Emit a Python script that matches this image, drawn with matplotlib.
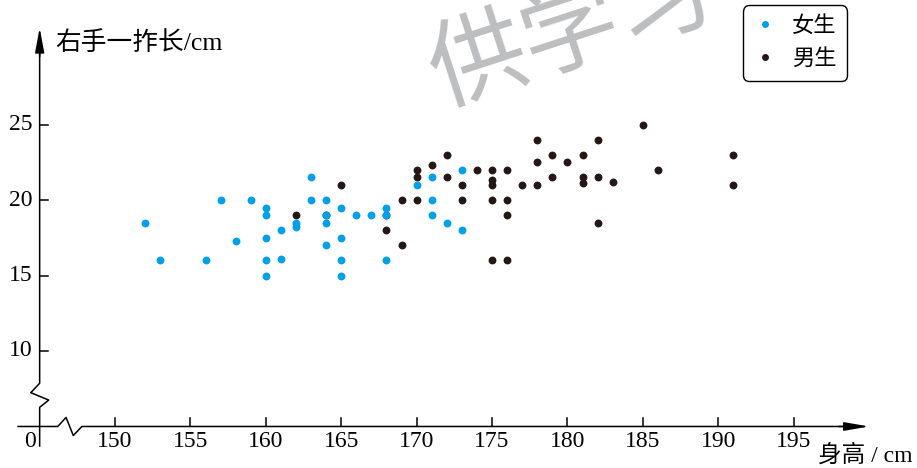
import matplotlib
matplotlib.use("Agg")
import matplotlib.pyplot as plt
from matplotlib.lines import Line2D

plt.rcParams['font.family'] = ['Liberation Serif', 'Noto Sans CJK SC', 'DejaVu Sans']

# 女生: 身高 / cm, 右手一拃长 / cm
girl_height = [152, 153, 156, 157, 158, 159, 160, 160, 160, 160, 160, 161, 161,
               162, 162, 163, 163, 164, 164, 164, 164, 165, 165, 165, 165, 166,
               167, 168, 168, 168, 170, 171, 171, 171, 172, 173, 173]
girl_span = [18.5, 16, 16, 20, 17.3, 20, 19.5, 19, 17.5, 16, 15, 18, 16.1,
             18.5, 18.2, 21.5, 20, 20, 19, 18.5, 17, 19.5, 17.5, 16, 15, 19,
             19, 19.5, 19, 16, 21, 21.5, 20, 19, 18.5, 22, 18]

# 男生
boy_height = [162, 164, 165, 168, 168, 169, 169, 170, 170, 170, 171, 172, 172,
              173, 173, 174, 175, 175, 175, 175, 175, 176, 176, 176, 176, 177,
              178, 178, 178, 179, 179, 180, 181, 181, 181, 182, 182, 182, 183,
              185, 186, 191, 191]
boy_span = [19, 19, 21, 19, 18, 20, 17, 22, 21.5, 20, 22.3, 23, 21.5,
            21, 20, 22, 22, 21.3, 21, 20, 16, 22, 20, 19, 16, 21,
            24, 22.5, 21, 23, 21.5, 22.5, 23, 21.5, 21.1, 24, 21.5, 18.5, 21.2,
            25, 22, 23, 21]

x_ticks = [150, 155, 160, 165, 170, 175, 180, 185, 190, 195]
y_ticks = [10, 15, 20, 25]

BLUE = '#00a0e9'
DARK = '#231815'

fig = plt.figure(figsize=(9.17, 4.68), dpi=100)
ax = fig.add_axes([0, 0, 1, 1])
ax.set_xlim(142.37, 203.18)
ax.set_ylim(2.25, 33.25)
ax.axis('off')

# watermark (cut off at the top edge, as in the source)
fig.text(0.455, 0.78, '供学习', rotation=18, fontsize=70, color='#bcbec0',
         family=['Noto Sans CJK SC'], ha='left', va='baseline', zorder=0)

# axes with breaks (y axis at x=145, x axis at y=5)
x0, y0 = 145, 5
lw = 1.1
ax.plot([143.57, 146.2, 146.75, 147.23, 147.8, 198.5],
        [y0, y0, 5.6, 4.4, y0, y0], color='black', lw=lw, zorder=2)
ax.plot([x0, x0, 144.41, 145.6, x0, x0],
        [30.0, 7.86, 7.24, 6.75, 6.27, 3.71], color='black', lw=lw, zorder=2)
ax.annotate('', xy=(200.0, y0), xytext=(198.0, y0),
            arrowprops=dict(arrowstyle='-|>,head_length=1.5,head_width=0.26',
                            color='black', lw=lw, shrinkA=0, shrinkB=0))
ax.annotate('', xy=(x0, 31.4), xytext=(x0, 29.5),
            arrowprops=dict(arrowstyle='-|>,head_length=1.5,head_width=0.28',
                            color='black', lw=lw, shrinkA=0, shrinkB=0))

for t in x_ticks:
    ax.plot([t, t], [y0, y0 + 0.53], color='black', lw=lw)
    ax.annotate(str(t), (t, y0), xytext=(0, -3), textcoords='offset points',
                ha='center', va='top', fontsize=17)
for t in y_ticks:
    ax.plot([x0, x0 + 0.53], [t, t], color='black', lw=lw)
    ax.annotate(str(t), (x0, t), xytext=(-5, 0), textcoords='offset points',
                ha='right', va='center', fontsize=17)
ax.annotate('0', (x0, y0), xytext=(-3, -3), textcoords='offset points',
            ha='right', va='top', fontsize=17)

ax.text(146.0, 30.4, '右手一拃长/cm', ha='left', va='center', fontsize=18.5)
ax.text(196.6, 3.05, '身高 / cm', ha='left', va='center', fontsize=17)

ax.scatter(boy_height, boy_span, s=32, color=DARK, linewidths=0, zorder=3)
ax.scatter(girl_height, girl_span, s=32, color=BLUE, linewidths=0, zorder=4)

handles = [Line2D([], [], ls='none', marker='o', ms=5, color=BLUE, mec='none'),
           Line2D([], [], ls='none', marker='o', ms=5, color=DARK, mec='none')]
leg = ax.legend(handles, ['女生', '男生'], loc='upper right',
                bbox_to_anchor=(0.924, 0.989), borderaxespad=0, fontsize=16,
                frameon=True, fancybox=True, edgecolor='black', framealpha=1,
                handletextpad=0.7, handlelength=1.0, borderpad=0.5,
                labelspacing=0.55)
leg.get_frame().set_linewidth(1.0)
leg.get_frame().set_boxstyle('round,pad=0,rounding_size=0.3')

fig.savefig('out.png', dpi=100)
